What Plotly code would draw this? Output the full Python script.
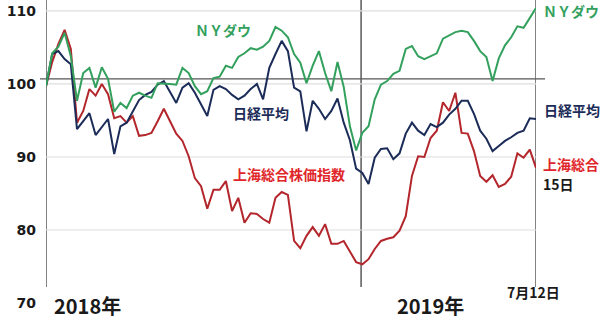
import plotly.graph_objects as go

weeks = list(range(80))

ny_dow = [99.7, 104.2, 105.1, 107.0, 103.8, 97.7, 101.5, 102.2, 99.5, 102.3,
          100.7, 96.2, 97.4, 96.7, 98.4, 98.8, 98.4, 98.1, 100.1, 100.1,
          100.0, 99.9, 102.2, 101.5, 99.7, 98.6, 99.0, 100.8, 101.0, 102.5,
          102.2, 103.7, 104.2, 104.9, 104.7, 105.1, 105.9, 107.8, 107.3, 106.4,
          104.1, 102.9, 100.1, 102.5, 104.5, 101.5, 99.0, 103.0, 99.6, 94.2,
          90.9, 93.3, 94.2, 97.9, 99.9, 100.4, 101.4, 101.8, 104.8, 105.2,
          103.8, 103.4, 103.8, 104.2, 106.2, 106.7, 107.1, 107.3, 107.1, 105.9,
          104.5, 103.7, 100.4, 103.5, 105.3, 106.4, 107.9, 107.7, 109.0, 110.4]

nikkei = [99.7, 104.1, 104.5, 103.4, 102.7, 93.8, 94.9, 96.0, 93.0, 94.1,
          95.2, 90.4, 94.2, 94.7, 96.3, 97.8, 98.5, 98.9, 99.9, 100.4,
          98.9, 97.4, 99.5, 100.1, 98.8, 97.1, 95.6, 99.2, 99.7, 99.3,
          98.5, 97.9, 98.4, 99.3, 100.0, 97.9, 102.2, 104.1, 105.9, 104.5,
          99.5, 99.0, 93.5, 97.7, 96.6, 95.2, 96.3, 98.0, 94.7, 92.3,
          88.4, 87.8, 86.3, 89.9, 91.1, 91.2, 89.7, 90.5, 93.2, 94.7,
          93.6, 93.0, 94.5, 94.1, 94.7, 95.8, 96.6, 97.7, 97.7, 95.9,
          93.6, 92.5, 90.8, 91.5, 92.2, 92.7, 93.3, 93.6, 95.3, 95.2]

shanghai = [99.7, 103.0, 105.5, 107.4, 104.8, 94.7, 96.3, 99.3, 98.4, 100.0,
            98.6, 95.3, 95.6, 94.7, 95.6, 92.9, 93.0, 93.3, 94.9, 96.6,
            94.9, 93.2, 92.2, 90.1, 87.1, 86.0, 82.9, 85.5, 85.5, 86.7,
            82.6, 84.4, 81.0, 82.3, 82.2, 81.5, 81.0, 84.4, 85.2, 84.8,
            78.5, 77.5, 79.2, 80.4, 79.2, 80.8, 78.1, 78.1, 78.5, 77.1,
            75.6, 75.3, 76.0, 77.4, 78.5, 78.8, 79.0, 79.9, 81.9, 87.4,
            90.1, 90.0, 92.6, 93.6, 97.5, 96.3, 98.8, 93.3, 93.2, 90.8,
            87.4, 86.6, 87.5, 85.9, 86.3, 87.3, 90.5, 89.9, 91.0, 88.5]

y_ticks = [70, 80, 90, 100, 110]
grid_vals = [80, 90, 100, 110]
year_break = 50.8

GREEN = "#33a15d"
NAVY = "#1c2c58"
RED = "#b3262c"
RED_TXT = "#e0262b"
GRID = "#dedede"
AX = "#5a5a5a"

W, H = 600, 320
L, R, T, B = 46, 536, 0, 303
YMIN, YMAX = 70, 111.5


def px(x):
    return (x - L) / (R - L)


def py(y):
    return (B - y) / (B - T)


fig = go.Figure()
fig.add_trace(go.Scatter(x=weeks, y=shanghai, mode="lines",
                         line=dict(color=RED, width=2), hoverinfo="skip"))
fig.add_trace(go.Scatter(x=weeks, y=nikkei, mode="lines",
                         line=dict(color=NAVY, width=2), hoverinfo="skip"))
fig.add_trace(go.Scatter(x=weeks, y=ny_dow, mode="lines",
                         line=dict(color=GREEN, width=2), hoverinfo="skip"))

shapes = []
for g in grid_vals:
    shapes.append(dict(type="line", xref="x", yref="y", x0=0, x1=79, y0=g, y1=g,
                       line=dict(color=GRID, width=1.2), layer="below"))
# dark reference line
shapes.append(dict(type="line", xref="paper", yref="y", x0=px(40), x1=px(545),
                   y0=100.7, y1=100.7, line=dict(color="#555555", width=1.2),
                   layer="below"))
# vertical lines
for xv in [0, year_break, 79]:
    shapes.append(dict(type="line", xref="x", yref="paper", x0=xv, x1=xv,
                       y0=py(287), y1=1, line=dict(color=AX, width=1.5),
                       layer="below"))

JP = "Noto Sans CJK JP"


def ann(text, x, y, color, size=14, xanchor="left"):
    return dict(text=text, xref="paper", yref="paper", x=px(x), y=py(y),
                xanchor=xanchor, yanchor="middle", showarrow=False,
                font=dict(family=JP, size=size, color=color, weight="bold"))


annotations = [
    ann("ＮＹダウ", 193, 30, GREEN),
    ann("ＮＹダウ", 541, 11, GREEN),
    ann("日経平均", 231, 113, NAVY),
    ann("日経平均", 542, 110, NAVY),
    ann("上海総合株価指数", 231, 174, RED_TXT),
    ann("上海総合", 541, 164, RED_TXT),
    ann("15日", 541, 184, "#1a1a1a"),
    ann("7月12日", 533, 292, "#1a1a1a", size=14, xanchor="center"),
    ann("2018年", 52, 305, "#1a1a1a", size=20),
    ann("2019年", 395, 305, "#1a1a1a", size=20),
]

fig.update_layout(
    width=W, height=H,
    margin=dict(l=L, r=W - R, t=T, b=H - B, pad=0),
    paper_bgcolor="white", plot_bgcolor="white",
    showlegend=False,
    shapes=shapes,
    annotations=annotations,
    xaxis=dict(range=[0, 79], showgrid=False, zeroline=False,
               showticklabels=False, showline=False, ticks=""),
    yaxis=dict(range=[YMIN, YMAX], showgrid=False, zeroline=False,
               showline=False, tickvals=y_ticks, ticks="",
               ticklabelstandoff=9,
               tickfont=dict(family="DejaVu Sans", size=14, color="#1a1a1a",
                             weight="bold")),
)

fig.write_html("out.html")
